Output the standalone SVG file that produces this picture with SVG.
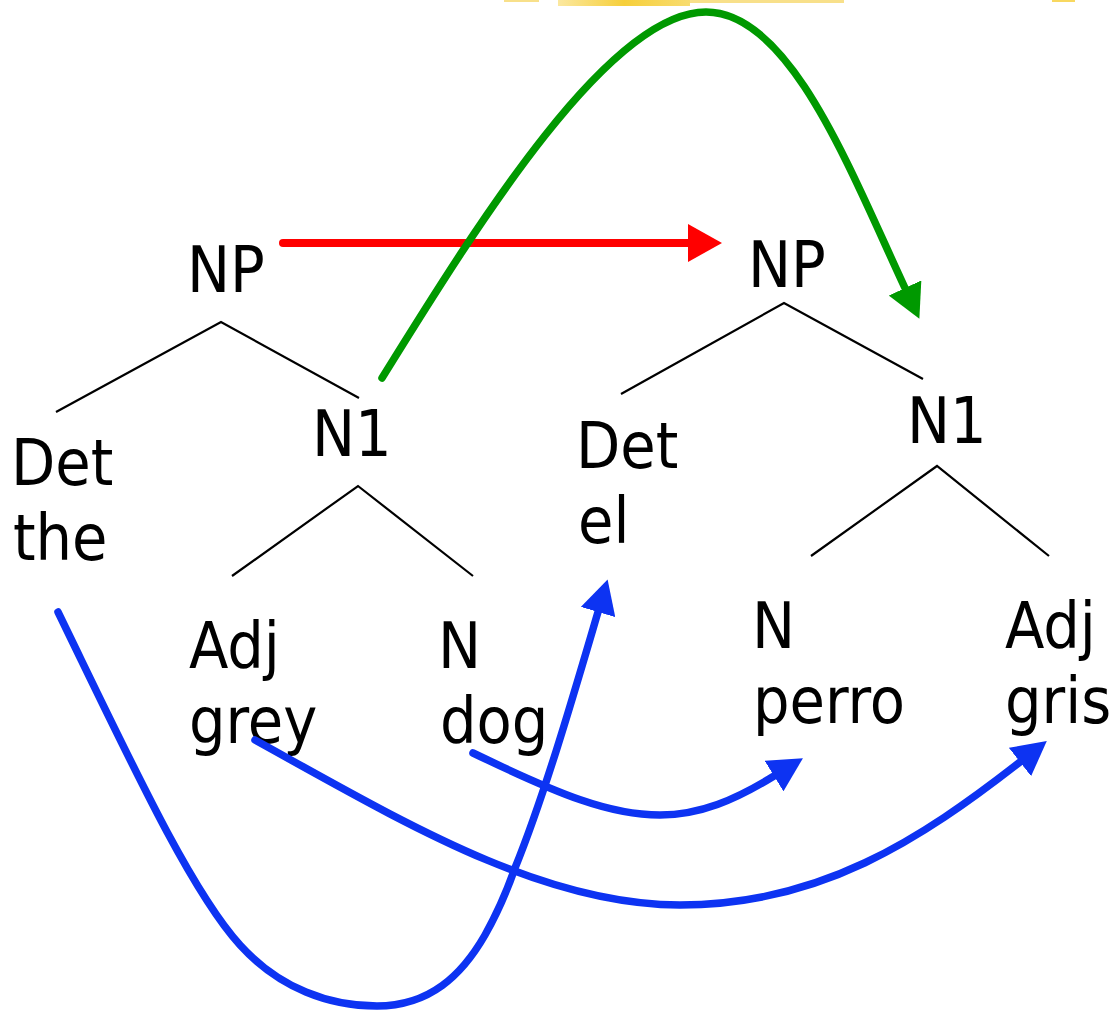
<svg xmlns="http://www.w3.org/2000/svg" width="1114" height="1011" viewBox="0 0 1114 1011">
<style>
  .lbl { font-family: "DejaVu Sans Condensed", "DejaVu Sans", sans-serif; font-stretch: condensed; font-size: 64px; fill: #000; }
  .edge { stroke: #000; stroke-width: 2.2; fill: none; }
  .arr { fill: none; stroke-width: 7.5; stroke-linecap: round; }
  .red { stroke: #ff0000; stroke-width: 8; }
  .green { stroke: #009900; }
  .blue { stroke: #0d33f2; }
</style>
<defs>
  <marker id="ahRed" markerUnits="userSpaceOnUse" markerWidth="34" markerHeight="38" viewBox="0 0 34 38" refX="0" refY="19" orient="auto"><path d="M0,0 L34,19 L0,38 Z" fill="#ff0000"/></marker>
  <marker id="ahGreen" markerUnits="userSpaceOnUse" markerWidth="34" markerHeight="36" viewBox="0 0 34 36" refX="0" refY="18" orient="auto"><path d="M0,0 L34,18 L0,36 Z" fill="#009900"/></marker>
  <marker id="ahBlue" markerUnits="userSpaceOnUse" markerWidth="34" markerHeight="36" viewBox="0 0 34 36" refX="0" refY="18" orient="auto"><path d="M0,0 L34,18 L0,36 Z" fill="#0d33f2"/></marker>
  <linearGradient id="yg" x1="0" x2="1" y1="0" y2="0">
    <stop offset="0" stop-color="#fbe8a0"/><stop offset="0.5" stop-color="#f6cf3a"/><stop offset="1" stop-color="#f8dc70"/>
  </linearGradient>
</defs>
<rect width="1114" height="1011" fill="#fff"/>
<g id="top-strip">
  <rect x="504" y="0" width="35" height="2" fill="#f8e08a"/>
  <rect x="558" y="0" width="132" height="6" fill="url(#yg)"/>
  <rect x="690" y="0" width="154" height="3" fill="#f8e08a"/>
  <rect x="1052" y="0" width="23" height="2" fill="#f8d860"/>
</g>
<g id="tree-edges">
  <polyline class="edge" points="56,412 221,322 359,398"/>
  <polyline class="edge" points="232,576 358,486 473,576"/>
  <polyline class="edge" points="621,394 784,303 923,379"/>
  <polyline class="edge" points="811,556 937,466 1049,556"/>
</g>
<g id="n-np-left"><text class="lbl" x="187" y="292">NP</text></g>
<g id="n-n1-left"><text class="lbl" x="312" y="456">N1</text></g>
<g id="n-det-the"><text class="lbl" x="11" y="485">Det</text><text class="lbl" x="13" y="560">the</text></g>
<g id="n-adj-grey"><text class="lbl" x="189" y="668">Adj</text><text class="lbl" x="189" y="743">grey</text></g>
<g id="n-n-dog"><text class="lbl" x="438" y="668">N</text><text class="lbl" x="440" y="743">dog</text></g>
<g id="n-np-right"><text class="lbl" x="748" y="287">NP</text></g>
<g id="n-det-el"><text class="lbl" x="576" y="468">Det</text><text class="lbl" x="578" y="543">el</text></g>
<g id="n-n1-right"><text class="lbl" x="907" y="443">N1</text></g>
<g id="n-n-perro"><text class="lbl" x="752" y="648">N</text><text class="lbl" x="753" y="723">perro</text></g>
<g id="n-adj-gris"><text class="lbl" x="1005" y="648">Adj</text><text class="lbl" x="1005" y="723">gris</text></g>
<g id="connectors">
  <path class="arr red" d="M283,243 H688" marker-end="url(#ahRed)"/>
  <path class="arr green" d="M382,378 C480,220 610,12 706,12 C790,12 850,170 905,288" marker-end="url(#ahGreen)"/>
  <path class="arr blue" d="M58,612 C130,760 190,890 240,945 C280,989 330,1006 377,1006 C430,1006 462,975 485,935 C498,912 508,888 515,868 C545,794 575,690 598,612" marker-end="url(#ahBlue)"/>
  <path class="arr blue" d="M255,740 C400,820 540,905 680,905 C820,905 920,840 1020,762" marker-end="url(#ahBlue)"/>
  <path class="arr blue" d="M473,753 C560,795 610,815 660,815 C700,815 735,800 774,776" marker-end="url(#ahBlue)"/>
</g>
</svg>
